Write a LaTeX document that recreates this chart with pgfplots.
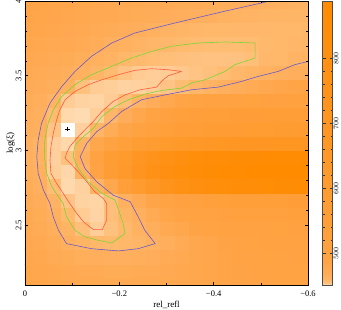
\documentclass[border=0pt]{standalone}
\usepackage{fontspec}
\setmainfont{Liberation Serif}
\usepackage{pgfplots}
\usepackage{pgfplotstable}
\pgfplotsset{compat=1.18}
\definecolor{cblue}{RGB}{105,88,205}
\definecolor{cgreen}{RGB}{120,215,50}
\definecolor{cred}{RGB}{255,90,60}
\pgfplotstableread{
x y c
-0.6 2.1 492
-0.57 2.1 491
-0.54 2.1 490
-0.51 2.1 489
-0.48 2.1 488
-0.45 2.1 487
-0.42 2.1 485
-0.39 2.1 483
-0.36 2.1 481
-0.33 2.1 479
-0.3 2.1 477
-0.27 2.1 476
-0.24 2.1 475
-0.21 2.1 474
-0.18 2.1 474
-0.15 2.1 475
-0.12 2.1 476
-0.09 2.1 478
-0.06 2.1 480
-0.03 2.1 482
0 2.1 484
-0.6 2.195 495
-0.57 2.195 494
-0.54 2.195 493
-0.51 2.195 492
-0.48 2.195 490
-0.45 2.195 488
-0.42 2.195 486
-0.39 2.195 483
-0.36 2.195 480
-0.33 2.195 477
-0.3 2.195 474
-0.27 2.195 472
-0.24 2.195 471
-0.21 2.195 470
-0.18 2.195 470
-0.15 2.195 471
-0.12 2.195 472
-0.09 2.195 474
-0.06 2.195 477
-0.03 2.195 480
0 2.195 482
-0.6 2.29 497
-0.57 2.29 496
-0.54 2.29 495
-0.51 2.29 493
-0.48 2.29 491
-0.45 2.29 489
-0.42 2.29 486
-0.39 2.29 483
-0.36 2.29 479
-0.33 2.29 475
-0.3 2.29 471
-0.27 2.29 468
-0.24 2.29 466
-0.21 2.29 465
-0.18 2.29 465
-0.15 2.29 466
-0.12 2.29 467.5
-0.09 2.29 470
-0.06 2.29 473
-0.03 2.29 477
0 2.29 480
-0.6 2.385 502
-0.57 2.385 500
-0.54 2.385 499
-0.51 2.385 497
-0.48 2.385 495
-0.45 2.385 492
-0.42 2.385 488
-0.39 2.385 484
-0.36 2.385 479
-0.33 2.385 473
-0.3 2.385 467
-0.27 2.385 462
-0.24 2.385 460
-0.21 2.385 458.5
-0.18 2.385 457.5
-0.15 2.385 458.5
-0.12 2.385 460.5
-0.09 2.385 463.5
-0.06 2.385 470
-0.03 2.385 475
0 2.385 478
-0.6 2.48 510
-0.57 2.48 508
-0.54 2.48 507
-0.51 2.48 505
-0.48 2.48 503
-0.45 2.48 500
-0.42 2.48 497
-0.39 2.48 493
-0.36 2.48 488
-0.33 2.48 481
-0.3 2.48 474
-0.27 2.48 467
-0.24 2.48 461.5
-0.21 2.48 457.5
-0.18 2.48 455
-0.15 2.48 452.8
-0.12 2.48 455.5
-0.09 2.48 460.5
-0.06 2.48 467
-0.03 2.48 472
0 2.48 476
-0.6 2.575 522
-0.57 2.575 520
-0.54 2.575 519
-0.51 2.575 517
-0.48 2.575 515
-0.45 2.575 512
-0.42 2.575 508
-0.39 2.575 503
-0.36 2.575 497
-0.33 2.575 490
-0.3 2.575 482
-0.27 2.575 472
-0.24 2.575 463.5
-0.21 2.575 460
-0.18 2.575 455.5
-0.15 2.575 452.2
-0.12 2.575 453
-0.09 2.575 457
-0.06 2.575 463.5
-0.03 2.575 470
0 2.575 474
-0.6 2.67 545
-0.57 2.67 544
-0.54 2.67 542
-0.51 2.67 540
-0.48 2.67 538
-0.45 2.67 535
-0.42 2.67 530
-0.39 2.67 525
-0.36 2.67 518
-0.33 2.67 510
-0.3 2.67 495
-0.27 2.67 485
-0.24 2.67 472
-0.21 2.67 462.5
-0.18 2.67 455.5
-0.15 2.67 452
-0.12 2.67 452.3
-0.09 2.67 454
-0.06 2.67 461
-0.03 2.67 468
0 2.67 472
-0.6 2.765 870
-0.57 2.765 866
-0.54 2.765 862
-0.51 2.765 857
-0.48 2.765 852
-0.45 2.765 845
-0.42 2.765 835
-0.39 2.765 820
-0.36 2.765 800
-0.33 2.765 770
-0.3 2.765 720
-0.27 2.765 660
-0.24 2.765 600
-0.21 2.765 540
-0.18 2.765 480
-0.15 2.765 460.5
-0.12 2.765 452.4
-0.09 2.765 451.7
-0.06 2.765 456
-0.03 2.765 465
0 2.765 470
-0.6 2.86 887
-0.57 2.86 886
-0.54 2.86 885
-0.51 2.86 883
-0.48 2.86 880
-0.45 2.86 876
-0.42 2.86 870
-0.39 2.86 862
-0.36 2.86 850
-0.33 2.86 830
-0.3 2.86 800
-0.27 2.86 760
-0.24 2.86 700
-0.21 2.86 630
-0.18 2.86 560
-0.15 2.86 490
-0.12 2.86 461
-0.09 2.86 451.9
-0.06 2.86 452.7
-0.03 2.86 462
0 2.86 465.5
-0.6 2.955 878
-0.57 2.955 876
-0.54 2.955 873
-0.51 2.955 870
-0.48 2.955 866
-0.45 2.955 860
-0.42 2.955 852
-0.39 2.955 840
-0.36 2.955 825
-0.33 2.955 800
-0.3 2.955 770
-0.27 2.955 730
-0.24 2.955 680
-0.21 2.955 620
-0.18 2.955 560
-0.15 2.955 500
-0.12 2.955 465
-0.09 2.955 455
-0.06 2.955 452.5
-0.03 2.955 461
0 2.955 465
-0.6 3.05 692
-0.57 3.05 690
-0.54 3.05 688
-0.51 3.05 684
-0.48 3.05 680
-0.45 3.05 675
-0.42 3.05 668
-0.39 3.05 660
-0.36 3.05 650
-0.33 3.05 635
-0.3 3.05 615
-0.27 3.05 590
-0.24 3.05 560
-0.21 3.05 530
-0.18 3.05 500
-0.15 3.05 480
-0.12 3.05 460.5
-0.09 3.05 451.8
-0.06 3.05 452.5
-0.03 3.05 460.5
0 3.05 464.5
-0.6 3.145 592
-0.57 3.145 590
-0.54 3.145 588
-0.51 3.145 585
-0.48 3.145 582
-0.45 3.145 578
-0.42 3.145 572
-0.39 3.145 565
-0.36 3.145 555
-0.33 3.145 545
-0.3 3.145 530
-0.27 3.145 515
-0.24 3.145 500
-0.21 3.145 485
-0.18 3.145 470.3
-0.15 3.145 460
-0.12 3.145 452.5
-0.09 3.145 451
-0.06 3.145 454
-0.03 3.145 463.2
0 3.145 466.3
-0.6 3.24 550
-0.57 3.24 550
-0.54 3.24 549
-0.51 3.24 548
-0.48 3.24 547
-0.45 3.24 545
-0.42 3.24 542
-0.39 3.24 538
-0.36 3.24 532
-0.33 3.24 522
-0.3 3.24 510
-0.27 3.24 495
-0.24 3.24 480
-0.21 3.24 467.8
-0.18 3.24 459.1
-0.15 3.24 452.7
-0.12 3.24 451.6
-0.09 3.24 451.8
-0.06 3.24 456.7
-0.03 3.24 463.5
0 3.24 467.8
-0.6 3.335 512
-0.57 3.335 511
-0.54 3.335 510
-0.51 3.335 509
-0.48 3.335 507
-0.45 3.335 505
-0.42 3.335 502
-0.39 3.335 498
-0.36 3.335 493
-0.33 3.335 486
-0.3 3.335 478
-0.27 3.335 467.8
-0.24 3.335 460.9
-0.21 3.335 455.6
-0.18 3.335 453
-0.15 3.335 452
-0.12 3.335 452.3
-0.09 3.335 453
-0.06 3.335 460.9
-0.03 3.335 466.3
0 3.335 470.8
-0.6 3.43 490
-0.57 3.43 486
-0.54 3.43 482
-0.51 3.43 478
-0.48 3.43 472.8
-0.45 3.43 467.8
-0.42 3.43 463.3
-0.39 3.43 460.9
-0.36 3.43 458.7
-0.33 3.43 456.2
-0.3 3.43 454.1
-0.27 3.43 452.8
-0.24 3.43 452.4
-0.21 3.43 452.3
-0.18 3.43 452.7
-0.15 3.43 453
-0.12 3.43 455
-0.09 3.43 462
-0.06 3.43 465.8
-0.03 3.43 469.3
0 3.43 472.3
-0.6 3.525 468.3
-0.57 3.525 466.3
-0.54 3.525 463.8
-0.51 3.525 461.7
-0.48 3.525 459.8
-0.45 3.525 458
-0.42 3.525 456.2
-0.39 3.525 455.1
-0.36 3.525 454.3
-0.33 3.525 453.6
-0.3 3.525 453
-0.27 3.525 452.8
-0.24 3.525 453.1
-0.21 3.525 454.3
-0.18 3.525 456.7
-0.15 3.525 459.8
-0.12 3.525 462
-0.09 3.525 466.8
-0.06 3.525 469.8
-0.03 3.525 472.3
0 3.525 474.3
-0.6 3.62 461.7
-0.57 3.62 460.2
-0.54 3.62 458.3
-0.51 3.62 458
-0.48 3.62 455.6
-0.45 3.62 454.9
-0.42 3.62 454.6
-0.39 3.62 454.6
-0.36 3.62 454.9
-0.33 3.62 455.1
-0.3 3.62 455.6
-0.27 3.62 456.2
-0.24 3.62 457
-0.21 3.62 458.7
-0.18 3.62 460.9
-0.15 3.62 462.3
-0.12 3.62 467.3
-0.09 3.62 470.3
-0.06 3.62 472.8
-0.03 3.62 474.8
0 3.62 477.3
-0.6 3.715 459.8
-0.57 3.715 459.1
-0.54 3.715 458.3
-0.51 3.715 457.6
-0.48 3.715 456.7
-0.45 3.715 456.2
-0.42 3.715 456.2
-0.39 3.715 456.4
-0.36 3.715 456.7
-0.33 3.715 457.2
-0.3 3.715 458
-0.27 3.715 459.1
-0.24 3.715 460.6
-0.21 3.715 462
-0.18 3.715 463.5
-0.15 3.715 468.3
-0.12 3.715 471.3
-0.09 3.715 473.8
-0.06 3.715 475.3
-0.03 3.715 478.3
0 3.715 480.3
-0.6 3.81 459.1
-0.57 3.81 458.7
-0.54 3.81 458.3
-0.51 3.81 458
-0.48 3.81 458
-0.45 3.81 458
-0.42 3.81 458.3
-0.39 3.81 458.7
-0.36 3.81 459.1
-0.33 3.81 459.8
-0.3 3.81 460.9
-0.27 3.81 462.4
-0.24 3.81 465.3
-0.21 3.81 467.8
-0.18 3.81 470.3
-0.15 3.81 472.3
-0.12 3.81 474.3
-0.09 3.81 476.3
-0.06 3.81 479.3
-0.03 3.81 481.3
0 3.81 483.3
-0.6 3.905 459.8
-0.57 3.905 459.8
-0.54 3.905 459.8
-0.51 3.905 459.8
-0.48 3.905 460.2
-0.45 3.905 460.9
-0.42 3.905 461.7
-0.39 3.905 462.8
-0.36 3.905 464.8
-0.33 3.905 466.3
-0.3 3.905 467.8
-0.27 3.905 469.3
-0.24 3.905 470.8
-0.21 3.905 472.3
-0.18 3.905 473.8
-0.15 3.905 475.3
-0.12 3.905 477.3
-0.09 3.905 479.3
-0.06 3.905 481.3
-0.03 3.905 483.3
0 3.905 485.3
-0.6 4.0 460.9
-0.57 4.0 461.7
-0.54 4.0 462.4
-0.51 4.0 463.8
-0.48 4.0 465.3
-0.45 4.0 466.3
-0.42 4.0 467.3
-0.39 4.0 468.3
-0.36 4.0 469.3
-0.33 4.0 470.3
-0.3 4.0 471.3
-0.27 4.0 472.3
-0.24 4.0 473.3
-0.21 4.0 474.3
-0.18 4.0 475.3
-0.15 4.0 478.3
-0.12 4.0 480.3
-0.09 4.0 481.3
-0.06 4.0 483.3
-0.03 4.0 485.3
0 4.0 485.3
}\chigrid
\begin{document}
\begin{tikzpicture}
\begin{axis}[
  name=main,
  width=283pt, height=284pt, scale only axis,
  xmin=-0.6, xmax=0, ymin=2.1, ymax=4,
  x dir=reverse,
  enlargelimits=false,
  axis on top,
  clip marker paths=true,
  xtick={-0.6,-0.4,-0.2,0},
  xticklabels={−0.6,−0.4,−0.2,0},
  minor x tick num=1,
  ytick={2.5,3,3.5,4},
  yticklabels={2.5,3,3.5,4},
  minor y tick num=4,
  tick align=inside,
  major tick length=3.5pt, minor tick length=2pt,
  every tick/.style={black, line width=0.5pt},
  axis line style={line width=0.6pt},
  tick label style={font=\fontsize{8.5}{10}\selectfont},
  xticklabel style={yshift=-2pt},
  yticklabel style={rotate=90, anchor=south},
  xlabel={rel\_refl}, ylabel={log(ξ)},
  label style={font=\fontsize{9}{11}\selectfont},
  xlabel style={yshift=2pt},
  ylabel style={yshift=-6pt},
  colormap={chi}{rgb255(0)=(255,255,255) rgb255(4)=(255,222,182) rgb255(10)=(255,213,166) rgb255(20)=(255,204,149) rgb255(30)=(255,196,134) rgb255(60)=(255,186,110) rgb255(110)=(255,177,96) rgb255(240)=(255,169,82) rgb255(390)=(255,163,68) rgb255(990)=(255,158,55) rgb255(1990)=(255,152,40) rgb255(2990)=(255,146,25) rgb255(4370)=(255,139,0)},
  point meta min=451, point meta max=888,
  colorbar,
  colorbar style={
    width=10pt,
    at={(parent axis.north east)}, anchor=north west, xshift=6pt,
    ytick={500,600,700,800},
    minor y tick num=4,
    ytick pos=both, yticklabel pos=right,
    yticklabel style={rotate=90, anchor=north, inner sep=1pt, font=\fontsize{7}{8}\selectfont},
    tick align=inside,
    major tick length=3pt, minor tick length=2pt,
    every tick/.style={black!80, line width=0.5pt},
    axis line style={draw=black!70, line width=0.6pt},
  },
]
\addplot[scatter, only marks, mark=square*, mark size=7.12pt,
  scatter/use mapped color={draw=mapped color, fill=mapped color},
  mark options={line width=0.2pt},
  point meta=explicit] table[x=x, y=y, meta=c] {\chigrid};
\addplot[cblue, line width=0.6pt] coordinates {
(-0.52,4.0) (-0.424,3.932) (-0.318,3.853) (-0.233,3.786) (-0.184,3.719) (-0.141,3.630) (-0.106,3.529) (-0.078,3.428) (-0.053,3.317) (-0.035,3.182) (-0.028,3.070) (-0.025,2.959) (-0.028,2.847) (-0.039,2.735) (-0.053,2.645) (-0.060,2.556) (-0.071,2.466) (-0.088,2.377) (-0.141,2.343) (-0.198,2.328) (-0.240,2.343) (-0.276,2.377) (-0.254,2.466) (-0.240,2.556) (-0.223,2.657) (-0.187,2.701) (-0.152,2.791) (-0.127,2.880) (-0.117,2.959) (-0.131,3.048) (-0.152,3.126) (-0.177,3.182) (-0.205,3.261) (-0.247,3.339) (-0.297,3.372) (-0.353,3.406) (-0.410,3.424) (-0.459,3.462) (-0.495,3.496) (-0.537,3.529) (-0.572,3.574) (-0.601,3.596)};
\addplot[cgreen, line width=0.6pt] coordinates {
(-0.488,3.719) (-0.424,3.726) (-0.367,3.719) (-0.311,3.697) (-0.269,3.663) (-0.226,3.619) (-0.184,3.563) (-0.141,3.507) (-0.106,3.440) (-0.078,3.361) (-0.060,3.272) (-0.049,3.182) (-0.042,3.070) (-0.041,2.959) (-0.046,2.847) (-0.057,2.757) (-0.071,2.690) (-0.081,2.645) (-0.088,2.556) (-0.106,2.466) (-0.127,2.422) (-0.155,2.399) (-0.184,2.381) (-0.212,2.444) (-0.208,2.511) (-0.201,2.578) (-0.191,2.668) (-0.163,2.713) (-0.134,2.791) (-0.113,2.880) (-0.102,2.959) (-0.106,3.037) (-0.124,3.093) (-0.145,3.149) (-0.163,3.227) (-0.191,3.294) (-0.219,3.339) (-0.254,3.377) (-0.290,3.402) (-0.332,3.417) (-0.353,3.451) (-0.382,3.473) (-0.424,3.529) (-0.445,3.574) (-0.488,3.619) (-0.488,3.719)};
\addplot[cred, line width=0.6pt] coordinates {
(-0.332,3.529) (-0.304,3.540) (-0.269,3.547) (-0.233,3.536) (-0.198,3.507) (-0.163,3.473) (-0.134,3.440) (-0.106,3.395) (-0.085,3.339) (-0.074,3.272) (-0.067,3.205) (-0.060,3.115) (-0.055,3.026) (-0.053,2.936) (-0.055,2.847) (-0.067,2.780) (-0.081,2.713) (-0.095,2.645) (-0.110,2.578) (-0.124,2.522) (-0.145,2.471) (-0.164,2.471) (-0.173,2.534) (-0.173,2.645) (-0.166,2.679) (-0.148,2.724) (-0.131,2.791) (-0.113,2.858) (-0.099,2.903) (-0.085,2.947) (-0.088,2.981) (-0.095,3.026) (-0.110,3.082) (-0.127,3.138) (-0.145,3.194) (-0.163,3.261) (-0.187,3.328) (-0.212,3.372) (-0.244,3.406) (-0.279,3.424) (-0.293,3.473) (-0.304,3.500) (-0.332,3.529)};
\addplot[only marks, mark=+, mark size=2.2pt, black, line width=0.45pt] coordinates {(-0.09,3.145)};
\end{axis}
\pgfresetboundingbox
\path ([xshift=-25pt,yshift=-24pt]main.south west) rectangle ([xshift=33pt,yshift=1pt]main.north east);
\end{tikzpicture}
\end{document}
